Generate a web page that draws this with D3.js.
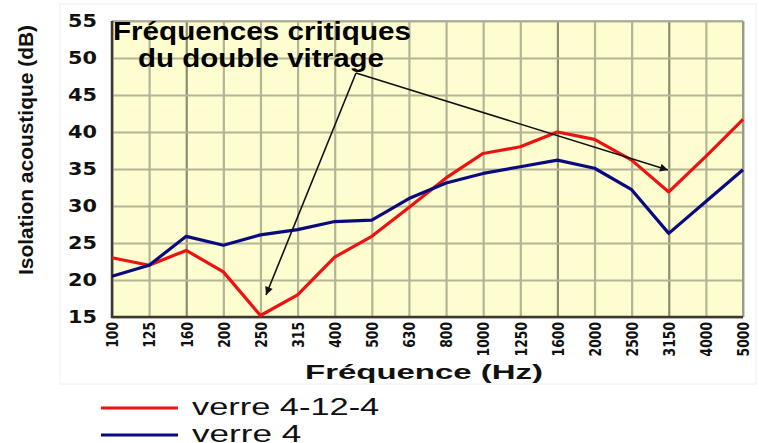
<!DOCTYPE html>
<html>
<head>
<meta charset="utf-8">
<script src="https://cdn.jsdelivr.net/npm/d3@7"></script>
<style>
  body { margin: 0; background: #fff; }
  svg { display: block; font-family: 'Liberation Sans', Arial, sans-serif; }
</style>
</head>
<body>
<svg width="759" height="443"></svg>
<script>
const frequencies = ['100', '125', '160', '200', '250', '315', '400', '500', '630', '800',
  '1000', '1250', '1600', '2000', '2500', '3150', '4000', '5000'];
const verre41244 = [23, 22, 24, 21.1, 15.2, 18, 23.1, 25.9, 29.8, 33.8,
  37.1, 38, 40, 39, 36.2, 31.9, 36.7, 41.7];
const verre4 = [20.5, 22, 25.9, 24.7, 26.1, 26.8, 27.9, 28.1, 31, 33.1,
  34.4, 35.3, 36.2, 35.1, 32.2, 26.3, 30.6, 34.9];
const yTicks = [15, 20, 25, 30, 35, 40, 45, 50, 55];

const series = [
  {name: 'verre 4-12-4', values: verre41244, color: '#ee1111'},
  {name: 'verre 4', values: verre4, color: '#0a0a80'}
];

const svg = d3.select('svg');
const plotLeft = 112, plotRight = 743, plotTop = 21, plotBottom = 317;

const x = d3.scalePoint().domain(frequencies).range([plotLeft, plotRight]);
const y = d3.scaleLinear().domain([15, 55]).range([plotBottom, plotTop]);

// outer light frame
svg.append('rect')
  .attr('x', 60).attr('y', 4).attr('width', 696).attr('height', 380)
  .attr('fill', 'none').attr('stroke', '#f0f0ec');

// plot background
svg.append('rect')
  .attr('x', plotLeft).attr('y', plotTop)
  .attr('width', plotRight - plotLeft).attr('height', plotBottom - plotTop)
  .attr('fill', '#fdfdcf');

// grid
svg.append('g')
  .attr('transform', `translate(0, ${plotBottom})`)
  .call(d3.axisBottom(x).tickSize(-(plotBottom - plotTop)).tickFormat(''))
  .call(g => g.select('.domain').remove())
  .call(g => g.selectAll('line')
    .attr('stroke', d => (d === '160' || d === '1600' || d === '3150') ? '#8d8d70' : '#b4b496')
    .attr('stroke-width', 2.2));

svg.append('g')
  .attr('transform', `translate(${plotLeft}, 0)`)
  .call(d3.axisLeft(y).tickValues(yTicks).tickSize(-(plotRight - plotLeft)).tickFormat(''))
  .call(g => g.select('.domain').remove())
  .call(g => g.selectAll('line').attr('stroke', '#b4b496').attr('stroke-width', 2));

// frame
svg.append('path')
  .attr('d', `M${plotRight},${plotTop}V${plotBottom}`)
  .attr('stroke', '#9a9a90').attr('stroke-width', 2).attr('fill', 'none');
svg.append('path')
  .attr('d', `M${plotLeft},${plotTop}H${plotRight}`)
  .attr('stroke', '#a8a898').attr('stroke-width', 1.5).attr('fill', 'none');
svg.append('path')
  .attr('d', `M${plotLeft},${plotTop}V${plotBottom}H${plotRight}`)
  .attr('stroke', '#3a3a30').attr('stroke-width', 2.5).attr('fill', 'none');

// y axis labels
svg.append('g')
  .attr('transform', `translate(${plotLeft}, 0)`)
  .call(d3.axisLeft(y).tickValues(yTicks).tickSize(0).tickPadding(15))
  .call(g => g.select('.domain').remove())
  .call(g => g.selectAll('text')
    .attr('font-family', "'DejaVu Sans', sans-serif")
    .attr('font-size', 17)
    .attr('font-weight', 'bold')
    .attr('fill', '#111')
    .attr('textLength', 29)
    .attr('lengthAdjust', 'spacingAndGlyphs'));

// x axis labels
svg.append('g')
  .attr('transform', `translate(0, ${plotBottom})`)
  .call(d3.axisBottom(x).tickSize(0).tickPadding(0))
  .call(g => g.select('.domain').remove())
  .call(g => g.selectAll('text')
    .attr('transform', 'rotate(-90)')
    .attr('text-anchor', 'end')
    .attr('x', -5)
    .attr('y', 0)
    .attr('dy', '0.36em')
    .attr('font-family', "'DejaVu Sans', sans-serif")
    .attr('font-size', 16)
    .attr('font-weight', 'bold')
    .attr('fill', '#111')
    .attr('textLength', d => d.length * 8.6)
    .attr('lengthAdjust', 'spacingAndGlyphs'));

// axis titles
svg.append('text')
  .attr('transform', 'translate(33, 150) rotate(-90)')
  .attr('text-anchor', 'middle')
  .attr('font-size', 21)
  .attr('font-weight', 'bold')
  .attr('fill', '#111')
  .attr('textLength', 250)
  .attr('lengthAdjust', 'spacingAndGlyphs')
  .text('Isolation acoustique (dB)');

svg.append('text')
  .attr('x', 424).attr('y', 379)
  .attr('text-anchor', 'middle')
  .attr('font-size', 20)
  .attr('font-weight', 'bold')
  .attr('fill', '#111')
  .attr('textLength', 238)
  .attr('lengthAdjust', 'spacingAndGlyphs')
  .text('Fréquence (Hz)');

// series lines
const line = d3.line()
  .x((d, i) => x(frequencies[i]))
  .y(d => y(d));

svg.append('g')
  .selectAll('path')
  .data(series)
  .join('path')
  .attr('d', d => line(d.values))
  .attr('fill', 'none')
  .attr('stroke', d => d.color)
  .attr('stroke-width', 3.2)
  .attr('stroke-linejoin', 'round');

// annotation
svg.append('defs').append('marker')
  .attr('id', 'head')
  .attr('viewBox', '0 0 10 10')
  .attr('refX', 10).attr('refY', 5)
  .attr('markerWidth', 11).attr('markerHeight', 8)
  .attr('markerUnits', 'userSpaceOnUse')
  .attr('orient', 'auto')
  .append('path')
  .attr('d', 'M0,0L10,5L0,10Z')
  .attr('fill', '#111');

const origin = [356, 73];
const targets = [[266, 295], [668, 170]];
svg.append('g')
  .selectAll('line')
  .data(targets)
  .join('line')
  .attr('x1', origin[0]).attr('y1', origin[1])
  .attr('x2', d => d[0]).attr('y2', d => d[1])
  .attr('stroke', '#111')
  .attr('stroke-width', 1.6)
  .attr('marker-end', 'url(#head)');

svg.append('text')
  .attr('x', 262).attr('y', 40)
  .attr('text-anchor', 'middle')
  .attr('font-size', 25)
  .attr('font-weight', 'bold')
  .attr('fill', '#000')
  .attr('textLength', 298)
  .attr('lengthAdjust', 'spacingAndGlyphs')
  .text('Fréquences critiques');

svg.append('text')
  .attr('x', 261).attr('y', 67)
  .attr('text-anchor', 'middle')
  .attr('font-size', 25)
  .attr('font-weight', 'bold')
  .attr('fill', '#000')
  .attr('textLength', 246)
  .attr('lengthAdjust', 'spacingAndGlyphs')
  .text('du double vitrage');

// legend
const legend = svg.append('g')
  .selectAll('g')
  .data(series)
  .join('g')
  .attr('transform', (d, i) => `translate(101, ${408 + i * 27})`);

legend.append('line')
  .attr('x1', 0).attr('x2', 77)
  .attr('stroke', d => d.color)
  .attr('stroke-width', 3.2);

legend.append('text')
  .attr('x', 91).attr('y', 7)
  .attr('font-size', 23)
  .attr('fill', '#111')
  .attr('textLength', d => d.name.length * 15.6)
  .attr('lengthAdjust', 'spacingAndGlyphs')
  .text(d => d.name);
</script>
</body>
</html>
